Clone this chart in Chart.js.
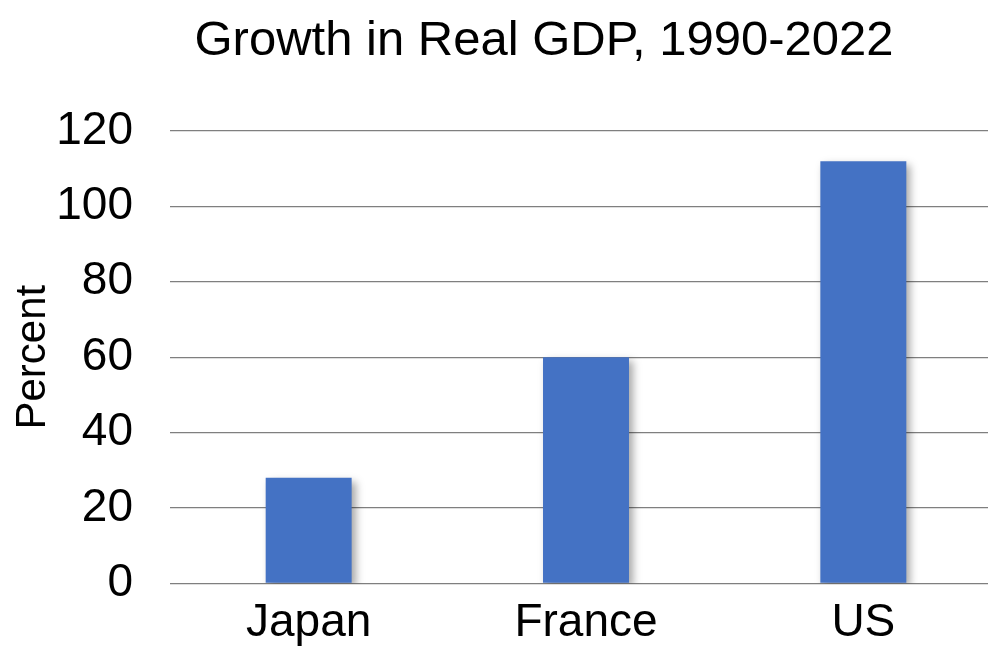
<!DOCTYPE html>
<html>
<head>
<meta charset="utf-8">
<script src="https://cdn.jsdelivr.net/npm/chart.js@4"></script>
<style>
  html, body { margin: 0; padding: 0; background: #fff; overflow: hidden; }
  /* plot runs a little past the right edge of the window, as in the original */
  #wrap { width: 1002px; height: 648px; }
</style>
</head>
<body>
<div id="wrap"><canvas id="barChart"></canvas></div>
<script>
const countries = ['Japan', 'France', 'US'];
const growth = [28, 60, 112];
const chartTitle = 'Growth in Real GDP, 1990-2022';

const FONT = "'Liberation Sans', Arial, sans-serif";

// soft drop shadow under the bars
const barShadow = {
  id: 'barShadow',
  beforeDatasetDraw(chart) {
    const ctx = chart.ctx;
    ctx.save();
    ctx.shadowColor = 'rgba(0,0,0,0.35)';
    ctx.shadowBlur = 8;
    ctx.shadowOffsetX = 4;
    ctx.shadowOffsetY = 4;
  },
  afterDatasetDraw(chart) {
    chart.ctx.restore();
  },
};

// title sits a bit right of the canvas centre, so draw it by hand
const topTitle = {
  id: 'topTitle',
  afterDraw(chart) {
    const ctx = chart.ctx;
    ctx.save();
    ctx.font = '49px ' + FONT;
    ctx.fillStyle = '#000';
    ctx.textAlign = 'center';
    ctx.textBaseline = 'alphabetic';
    ctx.fillText(chartTitle, 544, 55);
    ctx.restore();
  },
};

new Chart(document.getElementById('barChart'), {
  type: 'bar',
  data: {
    labels: countries,
    datasets: [
      {
        label: 'Growth',
        data: growth,
        backgroundColor: '#4472C4',
        borderWidth: 0,
        categoryPercentage: 1,
        barPercentage: 0.31,
      },
    ],
  },
  options: {
    responsive: true,
    maintainAspectRatio: false,
    animation: false,
    layout: {
      padding: { top: 131, right: 0, bottom: -8, left: 0 },
    },
    plugins: {
      legend: { display: false },
      tooltip: { enabled: false },
      title: { display: false },
    },
    scales: {
      x: {
        grid: { display: false },
        border: { display: false },
        ticks: {
          color: '#000',
          padding: 4,
          font: { family: FONT, size: 46 },
        },
      },
      y: {
        min: 0,
        max: 120,
        afterFit(scale) {
          scale.width = 170;
        },
        ticks: {
          stepSize: 20,
          color: '#000',
          padding: 37,
          font: { family: FONT, size: 46 },
        },
        grid: {
          color: '#7f7f7f',
          lineWidth: 1.2,
          drawTicks: false,
        },
        border: { display: false },
        title: {
          display: true,
          text: 'Percent',
          color: '#000',
          padding: { top: 8, bottom: 0 },
          font: { family: FONT, size: 42 },
        },
      },
    },
  },
  plugins: [barShadow, topTitle],
});
</script>
</body>
</html>
